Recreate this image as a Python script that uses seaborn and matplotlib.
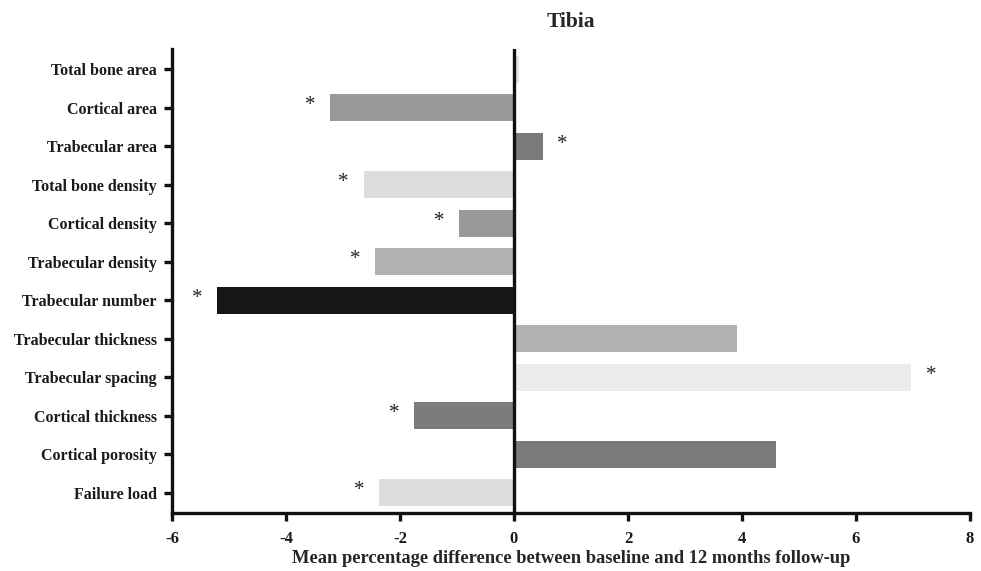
import matplotlib
matplotlib.use("Agg")
import matplotlib.pyplot as plt
import seaborn as sns
import pandas as pd

categories = ["Total bone area", "Cortical area", "Trabecular area", "Total bone density",
              "Cortical density", "Trabecular density", "Trabecular number",
              "Trabecular thickness", "Trabecular spacing", "Cortical thickness",
              "Cortical porosity", "Failure load"]
values = [0.08, -3.23, 0.50, -2.64, -0.96, -2.43, -5.21, 3.92, 6.97, -1.75, 4.60, -2.37]
significant = [False, True, True, True, True, True, True, False, True, True, False, True]
colors = ["#e2e2e2", "#999999", "#7a7a7a", "#dddddd", "#999999", "#b3b3b3", "#161616",
          "#b3b3b3", "#ebebeb", "#7c7c7c", "#7a7a7a", "#dddddd"]
xticks = [-6, -4, -2, 0, 2, 4, 6, 8]

sns.set_theme(style="white")
plt.rcParams['font.family'] = ['Liberation Serif', 'DejaVu Serif']
plt.rcParams['font.weight'] = 'bold'

df = pd.DataFrame({"cat": categories, "val": values})

fig = plt.figure(figsize=(9.81, 5.71), dpi=100)
ax = fig.add_axes([172/981, 1-513/571, (970-172)/981, (513-49)/571])

sns.barplot(data=df, x="val", y="cat", hue="cat", palette=colors, order=categories,
            hue_order=categories, width=0.7, legend=False, ax=ax, saturation=1,
            edgecolor="none")

ax.axvline(0, color="#111111", lw=2.4, zorder=5)

for i, (v, s) in enumerate(zip(values, significant)):
    if s:
        offs = 20 if v > 0 else -20
        ax.annotate("*", xy=(v, i), xytext=(offs * 0.72, 1.5), textcoords="offset points",
                    ha="center", va="center", fontsize=15, fontweight="normal", color="#222222")

ax.set_xlim(-6, 8)
ax.set_ylim(len(categories) - 0.48, -0.52)
ax.set_xticks(xticks)
ax.set_xticklabels([str(t) for t in xticks])
ax.set_ylabel("")
ax.set_xlabel("Mean percentage difference between baseline and 12 months follow-up",
              fontsize=13.3, fontweight="bold", labelpad=2)
ax.set_title("Tibia", fontsize=15.5, fontweight="bold", pad=16)

for side in ["top", "right"]:
    ax.spines[side].set_visible(False)
for side in ["left", "bottom"]:
    ax.spines[side].set_linewidth(2.4)
    ax.spines[side].set_color("#111111")

ax.tick_params(axis="both", which="major", direction="out", length=6, width=2.4,
               color="#111111", bottom=True, left=True)
ax.tick_params(axis="y", pad=5, labelsize=11.5)
ax.tick_params(axis="x", pad=7, labelsize=12)
for lab in ax.get_xticklabels() + ax.get_yticklabels():
    lab.set_fontweight("bold")
    lab.set_color("#1a1a1a")

fig.savefig("out.png", dpi=100)
